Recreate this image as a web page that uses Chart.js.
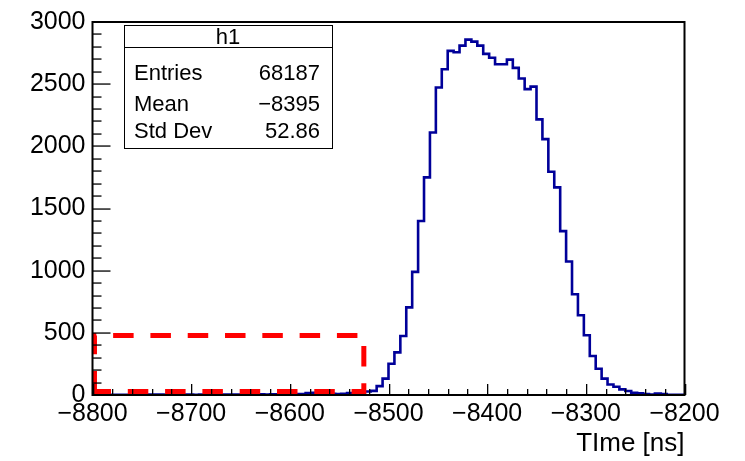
<!DOCTYPE html>
<html>
<head>
<meta charset="utf-8">
<title>h1</title>
<script src="https://cdn.jsdelivr.net/npm/chart.js@4.4.1/dist/chart.umd.min.js"></script>
<style>
    body { margin: 0; background: #ffffff; }
    #chartCanvas { display: block; }
</style>
</head>
<body>
<canvas id="chartCanvas" width="745" height="461"></canvas>
<script>
// Histogram binning: 100 bins of 6 ns between -8800 and -8200
const xMin = -8800;
const xMax = -8200;
const binWidth = 6;

// Bin contents, left to right
const counts = [
    2, 1, 2, 1, 2, 2, 1, 2, 2, 3,
    4, 3, 2, 3, 2, 3, 3, 2, 3, 3,
    3, 4, 3, 3, 4, 3, 4, 4, 5, 4,
    5, 6, 5, 6, 7, 8, 16, 18, 9, 8,
    9, 8, 9, 15, 12, 20, 28, 33, 71, 132,
    251, 343, 475, 705, 990, 1399, 1750, 2111, 2473, 2620,
    2768, 2757, 2810, 2858, 2842, 2810, 2744, 2713, 2660, 2660,
    2697, 2631, 2546, 2460, 2480, 2217, 2058, 1795, 1670, 1318,
    1074, 810, 641, 480, 314, 211, 132, 85, 66, 45,
    32, 18, 13, 8, 3, 12, 8, 2, 1, 1
];

// Axis tick labels
const xTickValues = [-8800, -8700, -8600, -8500, -8400, -8300, -8200];
const yTickValues = [0, 500, 1000, 1500, 2000, 2500, 3000];

// Statistics box rows
const statsTitle = 'h1';
const statsLabels = ['Entries', 'Mean', 'Std Dev'];
const statsValues = ['68187', '\u22128395', '52.86'];

// Highlighted region, in axis units
const boxX = [-8798, -8525];
const boxY = [28, 478];

const fontFamily = '"Liberation Sans", Arial, Helvetica, sans-serif';

// Function to turn the bin contents into step points (left edges + closing right edge)
function buildSteps() {
    let points = [];
    for (let i = 0; i < counts.length; i++) {
        points.push({ x: xMin + i * binWidth, y: counts[i] });
    }
    points.push({ x: xMin + counts.length * binWidth, y: counts[counts.length - 1] });
    return points;
}

// Draws the dashed box, frame, inward ticks and stats panel
const rootStylePlugin = {
    id: 'rootStyle',
    afterDraw(chart) {
        try {
            const ctx = chart.ctx;
            const area = chart.chartArea;
            const xs = chart.scales.x;
            const ys = chart.scales.y;

            // red dashed region
            ctx.save();
            ctx.strokeStyle = '#ff0000';
            ctx.lineWidth = 5;
            ctx.setLineDash([20.5, 16.8]);
            ctx.beginPath();
            ctx.moveTo(xs.getPixelForValue(boxX[0]), ys.getPixelForValue(boxY[0]));
            ctx.lineTo(xs.getPixelForValue(boxX[0]), ys.getPixelForValue(boxY[1]));
            ctx.lineTo(xs.getPixelForValue(boxX[1]), ys.getPixelForValue(boxY[1]));
            ctx.lineTo(xs.getPixelForValue(boxX[1]), ys.getPixelForValue(boxY[0]));
            ctx.closePath();
            ctx.stroke();
            ctx.restore();

            // ticks pointing into the frame
            ctx.save();
            ctx.fillStyle = '#000000';
            for (let v = xMin; v <= xMax; v += 20) {
                const px = Math.round(xs.getPixelForValue(v));
                const len = (v % 100 === 0) ? 11 : 6;
                ctx.fillRect(px, area.bottom - len, 1.3, len);
            }
            for (let v = 0; v <= 3000; v += 100) {
                const py = Math.round(ys.getPixelForValue(v));
                const len = (v % 500 === 0) ? 18 : 9;
                ctx.fillRect(area.left, py - 0.6, len, 1.3);
            }

            // frame
            ctx.strokeStyle = '#000000';
            ctx.lineWidth = 2;
            ctx.strokeRect(area.left, area.top, area.right - area.left, area.bottom - area.top);
            ctx.restore();

            // statistics box
            ctx.save();
            const bx = 124, by = 25, bw = 208, bh = 123;
            ctx.fillStyle = '#ffffff';
            ctx.fillRect(bx, by, bw, bh);
            ctx.strokeStyle = '#000000';
            ctx.lineWidth = 1;
            ctx.strokeRect(bx + 0.5, by + 0.5, bw, bh);
            ctx.beginPath();
            ctx.moveTo(bx, 47.5);
            ctx.lineTo(bx + bw, 47.5);
            ctx.stroke();

            ctx.fillStyle = '#000000';
            ctx.font = '22px ' + fontFamily;
            ctx.textBaseline = 'alphabetic';
            ctx.textAlign = 'center';
            ctx.fillText(statsTitle, bx + bw / 2, 44);
            const rowBase = [80, 111, 138];
            for (let i = 0; i < statsLabels.length; i++) {
                ctx.textAlign = 'left';
                ctx.fillText(statsLabels[i], 134, rowBase[i]);
                ctx.textAlign = 'right';
                ctx.fillText(statsValues[i], 320, rowBase[i]);
            }
            ctx.restore();
        } catch (e) {
            console.error(e);
        }
    }
};

// Function to build and render the histogram
function loadChart() {
    const ctx = document.getElementById('chartCanvas').getContext('2d');

    return new Chart(ctx, {
        type: 'line',
        data: {
            datasets: [{
                label: statsTitle,
                data: buildSteps(),
                stepped: true,
                borderColor: '#000099',
                borderWidth: 2.6,
                pointRadius: 0,
                fill: false,
                tension: 0
            }]
        },
        options: {
            responsive: false,
            animation: false,
            layout: { padding: { top: 16, right: 60.5, bottom: 0, left: 0 } },
            plugins: {
                legend: { display: false },
                tooltip: { enabled: false }
            },
            scales: {
                x: {
                    type: 'linear',
                    min: xMin,
                    max: xMax,
                    afterFit: (scale) => { scale.height = 66; },
                    afterBuildTicks: (scale) => { scale.ticks = xTickValues.map(v => ({ value: v })); },
                    grid: { display: false, drawTicks: false },
                    border: { display: false },
                    ticks: {
                        padding: 4,
                        color: '#000000',
                        font: { family: fontFamily, size: 25 },
                        maxRotation: 0,
                        autoSkip: false,
                        callback: (v) => (v < 0 ? '\u2212' + Math.abs(v) : String(v))
                    },
                    title: {
                        display: true,
                        text: 'TIme [ns]',
                        align: 'end',
                        color: '#000000',
                        font: { family: fontFamily, size: 26 },
                        padding: { top: 0, bottom: 2 }
                    }
                },
                y: {
                    min: 0,
                    max: 3000,
                    afterFit: (scale) => { scale.width = 92.5; },
                    afterBuildTicks: (scale) => { scale.ticks = yTickValues.map(v => ({ value: v })); },
                    grid: { display: false, drawTicks: false },
                    border: { display: false },
                    ticks: {
                        padding: 7,
                        color: '#000000',
                        font: { family: fontFamily, size: 25 },
                        callback: (v) => String(v)
                    }
                }
            }
        },
        plugins: [rootStylePlugin]
    });
}

let chart = loadChart();
</script>
</body>
</html>
